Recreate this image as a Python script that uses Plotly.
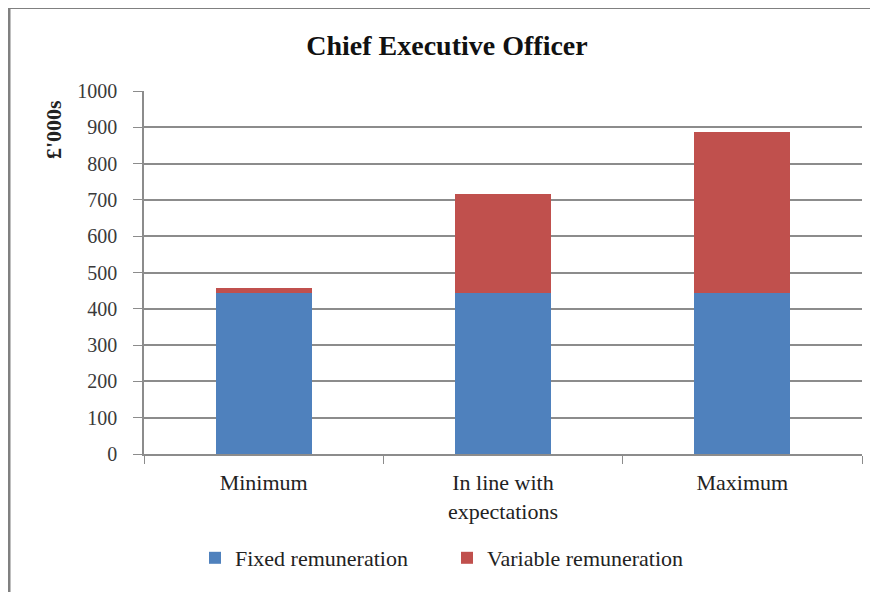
import plotly.graph_objects as go

categories = ["Minimum", "In line with<br>expectations", "Maximum"]
fixed_values = [444, 444, 444]
variable_values = [12, 273, 443]
series_names = ["Fixed remuneration", "Variable remuneration"]
y_ticks = list(range(0, 1001, 100))

W, H = 878, 592
OFF = 8  # page body margin offset
L, R, T, B = 144 - OFF, 878 - (862 - OFF), 91 - OFF, 592 - (454 - OFF)
pw, ph = W - L - R, H - T - B

def px(x):
    return (x - OFF - L) / pw

def py(y):
    return (H - B - (y - OFF)) / ph

serif = "Liberation Serif, Times New Roman, serif"

fig = go.Figure()
fig.add_trace(go.Bar(x=categories, y=fixed_values, name=series_names[0],
                     marker=dict(color="#4F81BD", line=dict(width=0)), width=0.4))
fig.add_trace(go.Bar(x=categories, y=variable_values, name=series_names[1],
                     marker=dict(color="#C0504D", line=dict(width=0)), width=0.4))

fig.update_layout(
    width=W, height=H, barmode="stack",
    margin=dict(l=L, r=R, t=T, b=B),
    paper_bgcolor="white", plot_bgcolor="white",
    font=dict(family=serif, size=20, color="#303030"),
    title=dict(text="<b>Chief Executive Officer</b>", x=(447 - OFF) / W, xanchor="center",
               y=1 - (45 - OFF) / H, yanchor="middle", yref="container",
               font=dict(family=serif, size=28, color="#111111")),
    legend=dict(orientation="h", x=px(195), xanchor="left", y=py(558), yanchor="middle",
                font=dict(family=serif, size=22, color="#222222"),
                itemsizing="constant", traceorder="normal", itemwidth=30,
                entrywidth=207, entrywidthmode="pixels"),
    showlegend=True,
)
fig.update_xaxes(
    showline=True, linecolor="#8c8c8c", linewidth=1.5,
    ticks="outside", tickson="boundaries", ticklen=8, tickcolor="#8c8c8c",
    ticklabelstandoff=8,
    showgrid=False, tickfont=dict(family=serif, size=22, color="#222222"),
)
fig.update_yaxes(
    range=[0, 1000], tickvals=y_ticks, showline=True, linecolor="#8c8c8c", linewidth=1.5,
    ticks="outside", ticklen=9, tickcolor="#8c8c8c", ticklabelstandoff=12,
    showgrid=True, gridcolor="#8c8c8c", gridwidth=1.5, zeroline=False,
    tickfont=dict(family=serif, size=20, color="#3a3a3a"),
)
fig.add_annotation(text="<b>£'000s</b>", textangle=-90, xref="paper", yref="paper",
                   x=px(53), y=py(130), xanchor="center", yanchor="middle", showarrow=False,
                   font=dict(family=serif, size=22, color="#222222"))
fig.add_shape(type="line", xref="paper", yref="paper", x0=px(9), x1=px(900),
              y0=py(7.5), y1=py(7.5), line=dict(color="#808080", width=3))
fig.add_shape(type="line", xref="paper", yref="paper", x0=px(9), x1=px(9),
              y0=py(6), y1=py(620), line=dict(color="#808080", width=3))

fig.write_html("out.html")
